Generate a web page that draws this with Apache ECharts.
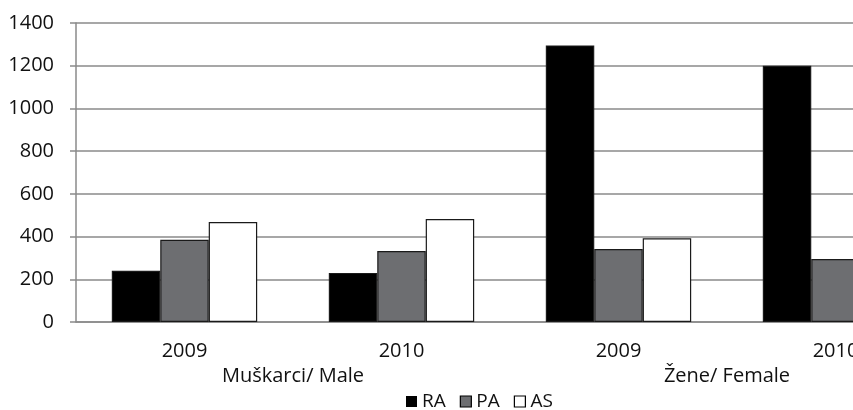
<!DOCTYPE html>
<html><head><meta charset="utf-8">
<script src="https://cdn.jsdelivr.net/npm/echarts@6/dist/echarts.min.js"></script>
<style>html,body{margin:0;padding:0;background:#fff}#c{width:853px;height:410px}</style>
</head><body><div id="c"></div>
<script>
const years = ['2009', '2010', '2009', '2010'];
const groups = ['Muškarci/ Male', 'Žene/ Female'];
const seriesNames = ['RA', 'PA', 'AS'];
const RA = [240, 230, 1295, 1200];
const PA = [385, 332, 342, 295];
const AS = [468, 482, 392, 330];
const yTicks = [0, 1400, 200];

const font = 'Open Sans';
const chart = echarts.init(document.getElementById('c'));
const colors = ['#000000', '#6d6e71', '#ffffff'];
const data = [RA, PA, AS];
const txt = {fontFamily: font, fontSize: 20, color: '#111', fontWeight: 500};
chart.setOption({
  animation: false,
  textStyle: {fontFamily: font},
  grid: {left: 76, top: 23, width: 868, height: 299, outerBoundsMode: 'none', containLabel: false},
  legend: {
    left: 406, top: 392, padding: 0, itemWidth: 11, itemHeight: 11, itemGap: 14,
    textStyle: {fontFamily: font, fontSize: 19, fontWeight: 500, color: '#111', lineHeight: 18},
    data: seriesNames.map((n, i) => ({name: n, icon: 'rect',
      itemStyle: {color: colors[i], borderColor: '#000', borderWidth: i === 0 ? 0 : 1.2}}))
  },
  xAxis: [{
    type: 'category', data: years, position: 'bottom',
    axisLine: {lineStyle: {color: '#8a8a8a', width: 1.5}},
    axisTick: {show: false},
    axisLabel: Object.assign({interval: 0, margin: 19}, txt)
  }, {
    type: 'category', data: groups, position: 'bottom', offset: 25,
    axisLine: {show: false}, axisTick: {show: false},
    axisLabel: Object.assign({interval: 0, margin: 19}, txt)
  }],
  yAxis: {
    type: 'value', min: yTicks[0], max: yTicks[1], interval: yTicks[2],
    axisLine: {show: true, lineStyle: {color: '#8a8a8a', width: 1.5}},
    axisTick: {show: true, length: 6, lineStyle: {color: '#8a8a8a', width: 1.5}},
    splitLine: {lineStyle: {color: '#8a8a8a', width: 1.5}},
    axisLabel: Object.assign({margin: 22, formatter: v => String(v)}, txt)
  },
  series: seriesNames.map((n, i) => ({
    name: n, type: 'bar', data: data[i], xAxisIndex: 0,
    barGap: '0%', barCategoryGap: '33%',
    itemStyle: {color: colors[i], borderColor: '#1a1a1a', borderWidth: 1.2}
  }))
});
</script></body></html>
